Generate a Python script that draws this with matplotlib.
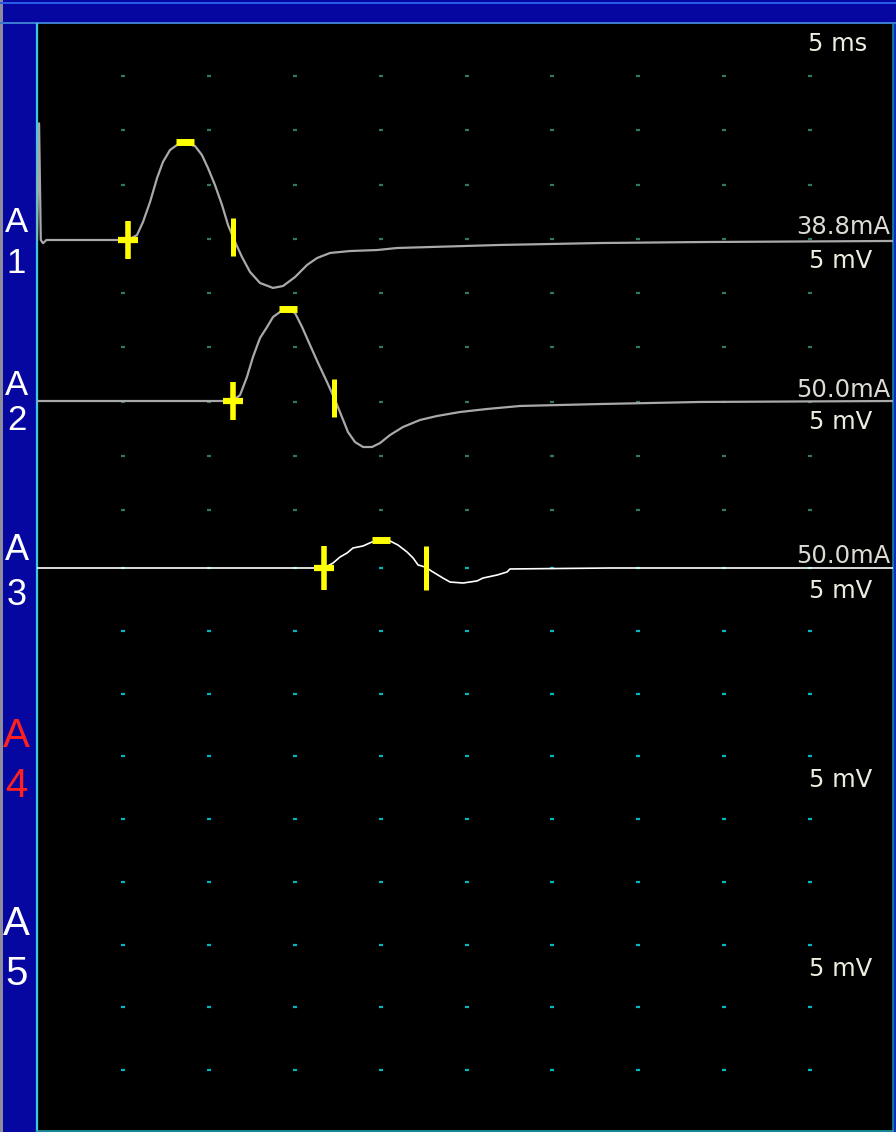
import numpy as np
import matplotlib
matplotlib.use("Agg")
import matplotlib.pyplot as plt
import matplotlib.transforms as mtransforms
from matplotlib.patches import Rectangle

# ---------------- data ----------------
channels = ["A1", "A2", "A3", "A4", "A5"]
label_colors = ["white", "white", "white", "#ff2020", "white"]
stim_labels = ["38.8mA", "50.0mA", "50.0mA", None, None]
sens_labels = ["5 mV", "5 mV", "5 mV", "5 mV", "5 mV"]
sweep_label = "5 ms"

# time (ms) / amplitude (mV) (5 ms/div, 5 mV/div)
a1_t = [0.00, 0.12, 0.22, 0.35, 0.55, 5.30, 5.82, 6.17, 6.58, 6.99, 7.33, 7.74, 8.15,
        8.62, 9.20, 9.60, 9.95, 10.36, 10.77, 11.12, 11.53, 11.93, 12.40, 12.98,
        13.74, 14.32, 15.02, 15.72, 16.30, 17.06, 18.22, 19.79, 20.96, 26.95,
        32.77, 38.59, 49.83]
a1_v = [0.00, 10.80, 0.00, -0.30, 0.00, 0.00, 0.46, 1.67, 3.52, 5.74, 7.22, 8.33, 8.80,
        8.98, 8.70, 7.87, 6.67, 5.09, 3.24, 1.39, -0.19, -1.57, -2.96, -3.98,
        -4.44, -4.26, -3.43, -2.31, -1.67, -1.20, -1.02, -0.93, -0.74, -0.46,
        -0.28, -0.19, -0.09]

a2_t = [0.00, 11.38, 11.82, 12.22, 12.57, 12.98, 13.39, 13.74, 14.14, 14.61, 15.02,
        15.43, 15.89, 16.36, 16.88, 17.35, 17.75, 18.10, 18.51, 18.98, 19.50, 19.97,
        20.55, 21.30, 22.29, 23.28, 24.62, 26.19, 28.12, 32.77, 38.59, 49.83]
a2_v = [0.00, 0.00, 0.56, 2.22, 4.07, 5.83, 6.85, 7.78, 8.24, 8.43, 8.15,
        6.85, 5.19, 3.52, 1.76, 0.09, -1.48, -2.87, -3.80, -4.26, -4.26, -3.89,
        -3.15, -2.41, -1.76, -1.39, -1.02, -0.74, -0.46, -0.28, -0.09, 0.00]

a3_t = [0.00, 16.71, 17.23, 17.64, 18.05, 18.39, 18.98, 19.50, 20.55, 21.01, 21.54,
        21.89, 22.18, 22.59, 23.05, 23.63, 24.04, 24.80, 25.61, 25.96, 26.78, 27.36,
        27.53, 33.35, 49.83]
a3_v = [0.00, 0.00, 0.46, 1.02, 1.39, 1.85, 2.04, 2.41, 2.50, 2.13, 1.48,
        0.93, 0.28, 0.09, -0.37, -0.93, -1.30, -1.39, -1.20, -0.93, -0.65, -0.37,
        -0.09, 0.00, 0.00]

traces_t = [a1_t, a2_t, a3_t]
traces_v = [a1_v, a2_v, a3_v]
trace_colors = ["#a9a9a9", "#a9a9a9", "#ffffff"]

onset_ms = [5.30, 11.38, 16.71]
peak_ms = [8.62, 14.61, 20.03]
end_ms = [11.41, 17.29, 22.64]

# ---------------- layout (pixels) ----------------
W, H = 896, 1132
plot_l, plot_r, plot_t, plot_b = 37, 893, 24, 1131
px_per_div_x = 85.9
px_per_div_y = 54.0
baselines = [240, 401, 568]

fig = plt.figure(figsize=(W / 100, H / 100), dpi=100, facecolor="#0606a0")

bg = fig.add_axes([0, 0, 1, 1])
bg.set_xlim(0, W)
bg.set_ylim(H, 0)
bg.axis("off")
bg.add_patch(Rectangle((0, 0), 2.5, H, color="#8c8c9c", lw=0))
bg.add_patch(Rectangle((0, 1.5), W, 2.0, color="#2a5ae8", lw=0))
bg.add_patch(Rectangle((0, 21.5), W, 2.5, color="#3a7ad0", lw=0))
bg.add_patch(Rectangle((893, 24), 3, H, color="#0a30c0", lw=0))

ax = fig.add_axes([plot_l / W, (H - plot_b) / H, (plot_r - plot_l) / W, (plot_b - plot_t) / H])
ax.set_facecolor("black")
xmax = (plot_r - plot_l) / px_per_div_x * 5
ax.set_xlim(0, xmax)
ax.set_ylim(plot_b, plot_t)
ax.set_xticks([])
ax.set_yticks([])
ax.spines["top"].set_visible(False)
ax.spines["left"].set_color("#38c8e8")
ax.spines["left"].set_linewidth(1.6)
ax.spines["bottom"].set_color("#20a0a0")
ax.spines["bottom"].set_linewidth(1.2)
ax.spines["right"].set_color("#2080a0")
ax.spines["right"].set_linewidth(1.2)

# grid dots
grid_x = np.arange(5, 50, 5)
upper_rows = np.linspace(76, 510, 9)
lower_rows = np.linspace(568, 1070, 9)
gx, gy = np.meshgrid(grid_x, upper_rows)
ax.plot(gx.ravel(), gy.ravel(), ls="none", marker="_", ms=2.6, mew=1.6, color="#2f7868")
gx, gy = np.meshgrid(grid_x, lower_rows)
ax.plot(gx.ravel(), gy.ravel(), ls="none", marker="_", ms=2.6, mew=1.6, color="#00b8c0")

# traces: ms on x, mV on y, offset to each channel baseline
for i in range(3):
    t = np.array(traces_t[i])
    v = np.array(traces_v[i])
    trans = mtransforms.Affine2D().scale(1, -px_per_div_y / 5).translate(0, baselines[i]) + ax.transData
    ax.plot(t, v, color=trace_colors[i], lw=1.6 if i < 2 else 1.2,
            transform=trans, solid_joinstyle="round", zorder=3)
    yon = np.interp(onset_ms[i], t, v)
    ypk = np.interp(peak_ms[i], t, v)
    yend = np.interp(end_ms[i], t, v)
    kw = dict(ls="none", color="#ffff00", transform=trans, zorder=4)
    vlen = 28 if i < 2 else 32
    ax.plot([onset_ms[i]], [yon], marker="|", ms=vlen, mew=4.0, **kw)
    ax.plot([onset_ms[i]], [yon], marker="_", ms=14, mew=4.5, **kw)
    ax.plot([peak_ms[i]], [ypk + 0.1], marker="_", ms=13, mew=5.0, **kw)
    ax.plot([end_ms[i]], [yend], marker="|", ms=vlen, mew=3.6, **kw)

# ---------------- text (overlay on top of everything) ----------------
fg = fig.add_axes([0, 0, 1, 1])
fg.set_xlim(0, W)
fg.set_ylim(H, 0)
fg.axis("off")
fg.patch.set_alpha(0)

left_label_pos = [(232, 273), (395, 430), (560, 605), (747, 797), (935, 985)]
left_sizes = [25, 25, 26, 29, 29]
for i, ch in enumerate(channels):
    ya, yn = left_label_pos[i]
    fg.text(16.5, ya, ch[0], color=label_colors[i], fontsize=left_sizes[i],
            family="Liberation Sans", ha="center", va="baseline")
    fg.text(16.5, yn, ch[1], color=label_colors[i], fontsize=left_sizes[i],
            family="Liberation Sans", ha="center", va="baseline")

txt_col = "#ececdf"
fg.text(808, 51, sweep_label, color=txt_col, fontsize=17.5, ha="left", va="baseline",
        family="DejaVu Sans")
stim_y = [234, 397, 563]
sens_y = [268, 429, 598, 787, 976]
for i in range(5):
    if stim_labels[i]:
        fg.text(890, stim_y[i], stim_labels[i], color="#dcdcd4", fontsize=17.5,
                ha="right", va="baseline", family="DejaVu Sans")
    fg.text(809, sens_y[i], sens_labels[i], color=txt_col, fontsize=17.5,
            ha="left", va="baseline", family="DejaVu Sans")

fig.savefig("out.png", dpi=100, facecolor=fig.get_facecolor())
